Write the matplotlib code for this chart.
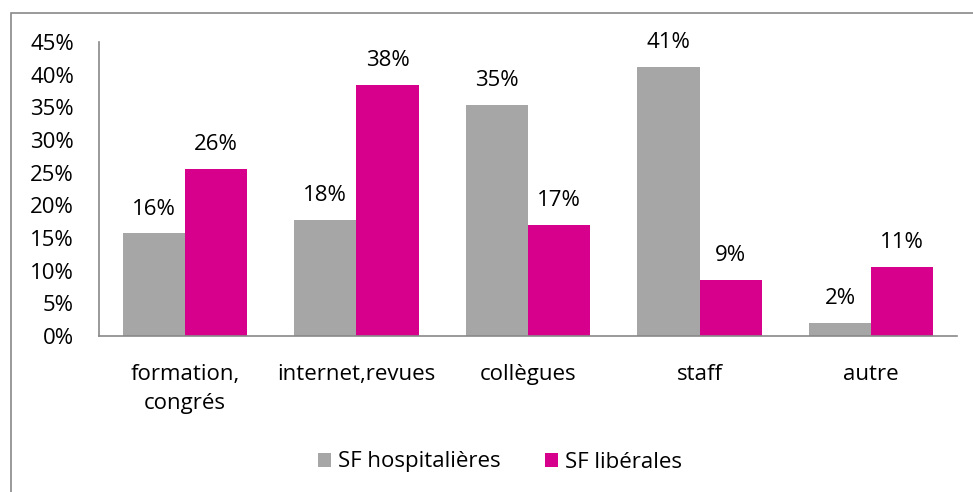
import matplotlib
matplotlib.use("Agg")
import matplotlib.pyplot as plt
from matplotlib.patches import Rectangle
import numpy as np

categories = ["formation,\ncongrés", "internet,revues", "collègues", "staff", "autre"]
hospitalieres = [15.7, 17.7, 35.3, 41.2, 2.0]
liberales = [25.6, 38.4, 17.0, 8.6, 10.6]
series_names = ["SF hospitalières", "SF libérales"]
yticks = [0, 5, 10, 15, 20, 25, 30, 35, 40, 45]

plt.rcParams['font.family'] = ['Open Sans', 'DejaVu Sans']
fs = 16

fig = plt.figure(figsize=(9.73, 4.92), dpi=100)
ax = fig.add_axes([99/973, 1-336/492, (957-99)/973, (336-42)/492])

x = np.arange(len(categories))
w = 0.362
c1, c2 = "#A6A6A6", "#D6008C"
b1 = ax.bar(x - w/2, hospitalieres, w, color=c1, label=series_names[0])
b2 = ax.bar(x + w/2, liberales, w, color=c2, label=series_names[1])
for bars, vals in ((b1, hospitalieres), (b2, liberales)):
    for b, v in zip(bars, vals):
        ax.annotate(f"{round(v):d}%", (b.get_x() + b.get_width()/2, v),
                    xytext=(0, 10), textcoords="offset points",
                    ha="center", va="bottom", fontsize=fs)

ax.set_xlim(-0.5, len(categories) - 0.5)
ax.set_ylim(0, 45)
ax.set_yticks(yticks)
ax.set_yticklabels([f"{t}%" for t in yticks], fontsize=fs)
ax.set_xticks(x)
ax.set_xticklabels(categories, fontsize=fs, linespacing=1.5)
ax.tick_params(axis='y', length=0, pad=18)
ax.tick_params(axis='x', length=0, pad=20)
for s in ("top", "right"):
    ax.spines[s].set_visible(False)
for s in ("left", "bottom"):
    ax.spines[s].set_color("#898989")
    ax.spines[s].set_linewidth(1.2)

fig.legend(handles=[b1, b2], labels=series_names, loc="center",
           bbox_to_anchor=(500/973, 1-462/492), ncol=2, frameon=False,
           fontsize=fs, handlelength=0.6, handleheight=0.6,
           handletextpad=0.3, columnspacing=2.0)

fig.patches.append(Rectangle((10.5/973, -0.1), 1.2, 1-12.5/492 + 0.1,
                             transform=fig.transFigure, fill=False,
                             edgecolor="#898989", linewidth=1.2))

fig.savefig("out.png", dpi=100)
